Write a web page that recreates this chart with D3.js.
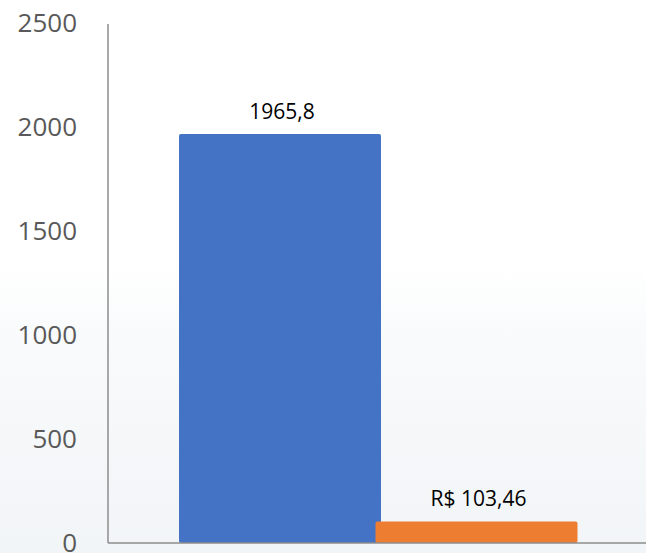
<!DOCTYPE html>
<html>
<head>
<meta charset="utf-8">
<script src="https://cdn.jsdelivr.net/npm/d3@7"></script>
<style>
  html, body { margin: 0; padding: 0; background: #fff; }
  svg { display: block; }
</style>
</head>
<body>
<svg id="chart" width="646" height="553"></svg>
<script>
const series = ["Série 1", "Série 2"];
const values = [1965.8, 103.46];
const valueLabels = ["1965,8", "R$ 103,46"];
const colors = ["#4472C4", "#ED7D31"];
const tickValues = [0, 500, 1000, 1500, 2000, 2500];

const W = 646, H = 553;
const svg = d3.select("#chart");

const defs = svg.append("defs");
const grad = defs.append("linearGradient").attr("id", "bg").attr("x1", 0).attr("y1", 0).attr("x2", 0).attr("y2", 1);
grad.append("stop").attr("offset", "0%").attr("stop-color", "#ffffff");
grad.append("stop").attr("offset", "48%").attr("stop-color", "#ffffff");
grad.append("stop").attr("offset", "62%").attr("stop-color", "#f8fafb");
grad.append("stop").attr("offset", "100%").attr("stop-color", "#f2f5f7");
svg.append("rect").attr("width", W).attr("height", H).attr("fill", "url(#bg)");

const y = d3.scaleLinear().domain([0, 2500]).range([543, 23]);
const x = d3.scaleBand().domain(series).range([179, 572]).padding(0);
const barW = x.bandwidth() + 5.5;

// y axis labels
const yAxis = d3.axisLeft(y).tickValues(tickValues).tickSize(0).tickPadding(0).tickFormat(d3.format("d"));
const gy = svg.append("g").attr("transform", "translate(77,0)").call(yAxis);
gy.select(".domain").remove();
gy.selectAll("text")
  .attr("fill", "#595959")
  .style("font-family", "'Open Sans', sans-serif")
  .style("font-size", "26px");

// bars
svg.append("g").selectAll("rect").data(series).join("rect")
  .attr("x", d => x(d))
  .attr("y", (d, i) => y(values[i]))
  .attr("width", barW)
  .attr("height", (d, i) => y(0) - y(values[i]))
  .attr("rx", 2)
  .attr("fill", (d, i) => colors[i]);

// axis lines
svg.append("line").attr("x1", 108).attr("x2", 108).attr("y1", y(2500) + 1).attr("y2", y(0))
  .attr("stroke", "#8c8c8c").attr("stroke-width", 1.5);
svg.append("line").attr("x1", 108).attr("x2", W).attr("y1", y(0)).attr("y2", y(0))
  .attr("stroke", "#8c8c8c").attr("stroke-width", 1.5);

// value labels
svg.append("g").selectAll("text").data(series).join("text")
  .attr("x", d => x(d) + barW / 2 + 2)
  .attr("y", (d, i) => y(values[i]) - 15)
  .attr("text-anchor", "middle")
  .attr("fill", "#000")
  .style("font-family", "'Open Sans', sans-serif")
  .style("font-size", "21px")
  .text((d, i) => valueLabels[i]);
</script>
</body>
</html>
